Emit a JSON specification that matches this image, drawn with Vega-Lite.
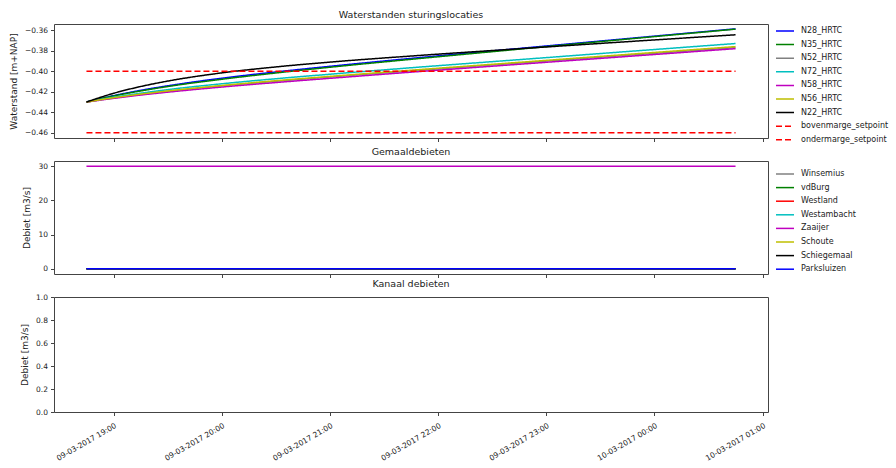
{
  "$schema": "https://vega.github.io/schema/vega-lite/v6.json",
  "padding": {"left": 9, "top": 9, "right": 0, "bottom": 0},
  "spacing": 23,
  "bounds": "flush",
  "config": {
    "font": "DejaVu Sans",
    "view": {"stroke": "#444", "strokeWidth": 1},
    "axis": {"grid": false, "domain": false, "tickColor": "#444", "tickSize": 3.5, "labelFontSize": 7.5, "labelColor": "#222", "titleFontSize": 9, "titleFontWeight": "normal", "titleColor": "#222", "labelPadding": 3, "titlePadding": 6},
    "title": {"fontSize": 9.5, "fontWeight": "normal", "color": "#222", "offset": 5, "anchor": "middle"},
    "legend": {"labelFontSize": 8, "labelColor": "#222", "symbolType": "M-2,0H2", "symbolSize": 81, "symbolStrokeWidth": 1.5, "labelOffset": 10.5, "rowPadding": 3.6, "padding": 0, "orient": "none", "direction": "vertical", "title": null}
  },
  "datasets": {
    "wl": [
      {"t": "2017-03-09T18:45:00", "v": -0.430, "s": "N28_HRTC"},
      {"t": "2017-03-09T19:00:00", "v": -0.4238, "s": "N28_HRTC"},
      {"t": "2017-03-09T19:15:00", "v": -0.4186, "s": "N28_HRTC"},
      {"t": "2017-03-09T19:30:00", "v": -0.4142, "s": "N28_HRTC"},
      {"t": "2017-03-09T20:00:00", "v": -0.4068, "s": "N28_HRTC"},
      {"t": "2017-03-09T20:30:00", "v": -0.4007, "s": "N28_HRTC"},
      {"t": "2017-03-09T21:00:00", "v": -0.3952, "s": "N28_HRTC"},
      {"t": "2017-03-09T21:45:00", "v": -0.3875, "s": "N28_HRTC"},
      {"t": "2017-03-09T22:45:00", "v": -0.3778, "s": "N28_HRTC"},
      {"t": "2017-03-09T23:45:00", "v": -0.3682, "s": "N28_HRTC"},
      {"t": "2017-03-10T00:45:00", "v": -0.3587, "s": "N28_HRTC"},
      {"t": "2017-03-09T18:45:00", "v": -0.430, "s": "N35_HRTC"},
      {"t": "2017-03-09T19:00:00", "v": -0.4241, "s": "N35_HRTC"},
      {"t": "2017-03-09T19:15:00", "v": -0.4192, "s": "N35_HRTC"},
      {"t": "2017-03-09T19:30:00", "v": -0.4149, "s": "N35_HRTC"},
      {"t": "2017-03-09T20:00:00", "v": -0.4078, "s": "N35_HRTC"},
      {"t": "2017-03-09T20:30:00", "v": -0.4017, "s": "N35_HRTC"},
      {"t": "2017-03-09T21:00:00", "v": -0.3961, "s": "N35_HRTC"},
      {"t": "2017-03-09T21:45:00", "v": -0.3884, "s": "N35_HRTC"},
      {"t": "2017-03-09T22:45:00", "v": -0.3785, "s": "N35_HRTC"},
      {"t": "2017-03-09T23:45:00", "v": -0.3687, "s": "N35_HRTC"},
      {"t": "2017-03-10T00:45:00", "v": -0.359, "s": "N35_HRTC"},
      {"t": "2017-03-09T18:45:00", "v": -0.430, "s": "N52_HRTC"},
      {"t": "2017-03-09T19:00:00", "v": -0.426, "s": "N52_HRTC"},
      {"t": "2017-03-09T19:15:00", "v": -0.4225, "s": "N52_HRTC"},
      {"t": "2017-03-09T19:30:00", "v": -0.4195, "s": "N52_HRTC"},
      {"t": "2017-03-09T20:00:00", "v": -0.4143, "s": "N52_HRTC"},
      {"t": "2017-03-09T20:30:00", "v": -0.4098, "s": "N52_HRTC"},
      {"t": "2017-03-09T21:00:00", "v": -0.4056, "s": "N52_HRTC"},
      {"t": "2017-03-09T21:45:00", "v": -0.3997, "s": "N52_HRTC"},
      {"t": "2017-03-09T22:45:00", "v": -0.392, "s": "N52_HRTC"},
      {"t": "2017-03-09T23:45:00", "v": -0.3845, "s": "N52_HRTC"},
      {"t": "2017-03-10T00:45:00", "v": -0.377, "s": "N52_HRTC"},
      {"t": "2017-03-09T18:45:00", "v": -0.430, "s": "N72_HRTC"},
      {"t": "2017-03-09T19:00:00", "v": -0.4253, "s": "N72_HRTC"},
      {"t": "2017-03-09T19:15:00", "v": -0.4214, "s": "N72_HRTC"},
      {"t": "2017-03-09T19:30:00", "v": -0.4179, "s": "N72_HRTC"},
      {"t": "2017-03-09T20:00:00", "v": -0.4122, "s": "N72_HRTC"},
      {"t": "2017-03-09T20:30:00", "v": -0.4073, "s": "N72_HRTC"},
      {"t": "2017-03-09T21:00:00", "v": -0.4029, "s": "N72_HRTC"},
      {"t": "2017-03-09T21:45:00", "v": -0.3966, "s": "N72_HRTC"},
      {"t": "2017-03-09T22:45:00", "v": -0.3887, "s": "N72_HRTC"},
      {"t": "2017-03-09T23:45:00", "v": -0.3808, "s": "N72_HRTC"},
      {"t": "2017-03-10T00:45:00", "v": -0.373, "s": "N72_HRTC"},
      {"t": "2017-03-09T18:45:00", "v": -0.430, "s": "N58_HRTC"},
      {"t": "2017-03-09T19:00:00", "v": -0.4264, "s": "N58_HRTC"},
      {"t": "2017-03-09T19:15:00", "v": -0.4232, "s": "N58_HRTC"},
      {"t": "2017-03-09T19:30:00", "v": -0.4204, "s": "N58_HRTC"},
      {"t": "2017-03-09T20:00:00", "v": -0.4154, "s": "N58_HRTC"},
      {"t": "2017-03-09T20:30:00", "v": -0.411, "s": "N58_HRTC"},
      {"t": "2017-03-09T21:00:00", "v": -0.4069, "s": "N58_HRTC"},
      {"t": "2017-03-09T21:45:00", "v": -0.4009, "s": "N58_HRTC"},
      {"t": "2017-03-09T22:45:00", "v": -0.3932, "s": "N58_HRTC"},
      {"t": "2017-03-09T23:45:00", "v": -0.3856, "s": "N58_HRTC"},
      {"t": "2017-03-10T00:45:00", "v": -0.378, "s": "N58_HRTC"},
      {"t": "2017-03-09T18:45:00", "v": -0.430, "s": "N56_HRTC"},
      {"t": "2017-03-09T19:00:00", "v": -0.4258, "s": "N56_HRTC"},
      {"t": "2017-03-09T19:15:00", "v": -0.4223, "s": "N56_HRTC"},
      {"t": "2017-03-09T19:30:00", "v": -0.4192, "s": "N56_HRTC"},
      {"t": "2017-03-09T20:00:00", "v": -0.4139, "s": "N56_HRTC"},
      {"t": "2017-03-09T20:30:00", "v": -0.4092, "s": "N56_HRTC"},
      {"t": "2017-03-09T21:00:00", "v": -0.405, "s": "N56_HRTC"},
      {"t": "2017-03-09T21:45:00", "v": -0.399, "s": "N56_HRTC"},
      {"t": "2017-03-09T22:45:00", "v": -0.3913, "s": "N56_HRTC"},
      {"t": "2017-03-09T23:45:00", "v": -0.3836, "s": "N56_HRTC"},
      {"t": "2017-03-10T00:45:00", "v": -0.376, "s": "N56_HRTC"},
      {"t": "2017-03-09T18:45:00", "v": -0.430, "s": "N22_HRTC"},
      {"t": "2017-03-09T19:00:00", "v": -0.4215, "s": "N22_HRTC"},
      {"t": "2017-03-09T19:15:00", "v": -0.4149, "s": "N22_HRTC"},
      {"t": "2017-03-09T19:30:00", "v": -0.4096, "s": "N22_HRTC"},
      {"t": "2017-03-09T20:00:00", "v": -0.4016, "s": "N22_HRTC"},
      {"t": "2017-03-09T20:30:00", "v": -0.3958, "s": "N22_HRTC"},
      {"t": "2017-03-09T21:00:00", "v": -0.3911, "s": "N22_HRTC"},
      {"t": "2017-03-09T21:45:00", "v": -0.3852, "s": "N22_HRTC"},
      {"t": "2017-03-09T22:45:00", "v": -0.3781, "s": "N22_HRTC"},
      {"t": "2017-03-09T23:45:00", "v": -0.3712, "s": "N22_HRTC"},
      {"t": "2017-03-10T00:45:00", "v": -0.3645, "s": "N22_HRTC"},
      {"t": "2017-03-09T18:45:00", "v": -0.40, "s": "bovenmarge_setpoint"},
      {"t": "2017-03-10T00:45:00", "v": -0.40, "s": "bovenmarge_setpoint"},
      {"t": "2017-03-09T18:45:00", "v": -0.46, "s": "ondermarge_setpoint"},
      {"t": "2017-03-10T00:45:00", "v": -0.46, "s": "ondermarge_setpoint"}
    ],
    "q": [
      {"t": "2017-03-09T18:45:00", "q": 0, "g": "Winsemius"},
      {"t": "2017-03-10T00:45:00", "q": 0, "g": "Winsemius"},
      {"t": "2017-03-09T18:45:00", "q": 0, "g": "vdBurg"},
      {"t": "2017-03-10T00:45:00", "q": 0, "g": "vdBurg"},
      {"t": "2017-03-09T18:45:00", "q": 0, "g": "Westland"},
      {"t": "2017-03-10T00:45:00", "q": 0, "g": "Westland"},
      {"t": "2017-03-09T18:45:00", "q": 0, "g": "Westambacht"},
      {"t": "2017-03-10T00:45:00", "q": 0, "g": "Westambacht"},
      {"t": "2017-03-09T18:45:00", "q": 30, "g": "Zaaijer"},
      {"t": "2017-03-10T00:45:00", "q": 30, "g": "Zaaijer"},
      {"t": "2017-03-09T18:45:00", "q": 0, "g": "Schoute"},
      {"t": "2017-03-10T00:45:00", "q": 0, "g": "Schoute"},
      {"t": "2017-03-09T18:45:00", "q": 0, "g": "Schiegemaal"},
      {"t": "2017-03-10T00:45:00", "q": 0, "g": "Schiegemaal"},
      {"t": "2017-03-09T18:45:00", "q": 0, "g": "Parksluizen"},
      {"t": "2017-03-10T00:45:00", "q": 0, "g": "Parksluizen"}
    ],
    "k": []
  },
  "vconcat": [
    {
      "title": "Waterstanden sturingslocaties",
      "width": 714,
      "height": 114,
      "data": {"name": "wl"},
      "mark": {"type": "line", "strokeWidth": 1.5, "interpolate": "monotone"},
      "encoding": {
        "x": {"field": "t", "type": "temporal",
          "scale": {"domain": [{"year": 2017, "month": 3, "date": 9, "hours": 18, "minutes": 27}, {"year": 2017, "month": 3, "date": 10, "hours": 1, "minutes": 3}]},
          "axis": {"labels": false, "title": null, "values": [
            {"year": 2017, "month": 3, "date": 9, "hours": 19}, {"year": 2017, "month": 3, "date": 9, "hours": 20}, {"year": 2017, "month": 3, "date": 9, "hours": 21}, {"year": 2017, "month": 3, "date": 9, "hours": 22}, {"year": 2017, "month": 3, "date": 9, "hours": 23}, {"year": 2017, "month": 3, "date": 10, "hours": 0}, {"year": 2017, "month": 3, "date": 10, "hours": 1}]}},
        "y": {"field": "v", "type": "quantitative",
          "scale": {"domain": [-0.465, -0.354], "nice": false, "zero": false},
          "axis": {"values": [-0.46, -0.44, -0.42, -0.40, -0.38, -0.36], "format": ".2f", "title": "Waterstand [m+NAP]"}},
        "color": {"field": "s", "type": "nominal",
          "scale": {"domain": ["N28_HRTC", "N35_HRTC", "N52_HRTC", "N72_HRTC", "N58_HRTC", "N56_HRTC", "N22_HRTC", "bovenmarge_setpoint", "ondermarge_setpoint"],
                    "range": ["#0000ff", "#008000", "#808080", "#00bfbf", "#bf00bf", "#bfbf00", "#000000", "#ff0000", "#ff0000"]},
          "legend": {"legendX": 725.5, "legendY": 1.5}},
        "strokeDash": {"field": "s", "type": "nominal",
          "scale": {"domain": ["N28_HRTC", "N35_HRTC", "N52_HRTC", "N72_HRTC", "N58_HRTC", "N56_HRTC", "N22_HRTC", "bovenmarge_setpoint", "ondermarge_setpoint"],
                    "range": [[1, 0], [1, 0], [1, 0], [1, 0], [1, 0], [1, 0], [1, 0], [6, 3], [6, 3]]},
          "legend": {"legendX": 725.5, "legendY": 1.5}}
      }
    },
    {
      "title": "Gemaaldebieten",
      "width": 714,
      "height": 113,
      "data": {"name": "q"},
      "mark": {"type": "line", "strokeWidth": 1.5},
      "encoding": {
        "x": {"field": "t", "type": "temporal",
          "scale": {"domain": [{"year": 2017, "month": 3, "date": 9, "hours": 18, "minutes": 27}, {"year": 2017, "month": 3, "date": 10, "hours": 1, "minutes": 3}]},
          "axis": {"labels": false, "title": null, "values": [
            {"year": 2017, "month": 3, "date": 9, "hours": 19}, {"year": 2017, "month": 3, "date": 9, "hours": 20}, {"year": 2017, "month": 3, "date": 9, "hours": 21}, {"year": 2017, "month": 3, "date": 9, "hours": 22}, {"year": 2017, "month": 3, "date": 9, "hours": 23}, {"year": 2017, "month": 3, "date": 10, "hours": 0}, {"year": 2017, "month": 3, "date": 10, "hours": 1}]}},
        "y": {"field": "q", "type": "quantitative",
          "scale": {"domain": [-1.5, 31.5], "nice": false, "zero": false},
          "axis": {"values": [0, 10, 20, 30], "title": "Debiet [m3/s]"}},
        "color": {"field": "g", "type": "nominal",
          "scale": {"domain": ["Winsemius", "vdBurg", "Westland", "Westambacht", "Zaaijer", "Schoute", "Schiegemaal", "Parksluizen"],
                    "range": ["#808080", "#008000", "#ff0000", "#00bfbf", "#bf00bf", "#bfbf00", "#000000", "#0000ff"]},
          "legend": {"legendX": 725.5, "legendY": 7.5}}
      }
    },
    {
      "title": "Kanaal debieten",
      "width": 714,
      "height": 115,
      "data": {"name": "k"},
      "mark": {"type": "line", "strokeWidth": 1.5},
      "encoding": {
        "x": {"field": "t", "type": "temporal",
          "scale": {"domain": [{"year": 2017, "month": 3, "date": 9, "hours": 18, "minutes": 27}, {"year": 2017, "month": 3, "date": 10, "hours": 1, "minutes": 3}]},
          "axis": {"title": null, "format": "%d-%m-%Y %H:%M", "labelAngle": -30, "labelAlign": "right", "labelBaseline": "top", "labelPadding": 6, "values": [
            {"year": 2017, "month": 3, "date": 9, "hours": 19}, {"year": 2017, "month": 3, "date": 9, "hours": 20}, {"year": 2017, "month": 3, "date": 9, "hours": 21}, {"year": 2017, "month": 3, "date": 9, "hours": 22}, {"year": 2017, "month": 3, "date": 9, "hours": 23}, {"year": 2017, "month": 3, "date": 10, "hours": 0}, {"year": 2017, "month": 3, "date": 10, "hours": 1}]}},
        "y": {"field": "q", "type": "quantitative",
          "scale": {"domain": [0, 1], "nice": false, "zero": false},
          "axis": {"values": [0, 0.2, 0.4, 0.6, 0.8, 1.0], "format": ".1f", "title": "Debiet [m3/s]"}}
      }
    }
  ],
  "resolve": {
    "scale": {"x": "independent", "y": "independent", "color": "independent", "strokeDash": "independent"},
    "legend": {"color": "independent", "strokeDash": "independent"}
  }
}
